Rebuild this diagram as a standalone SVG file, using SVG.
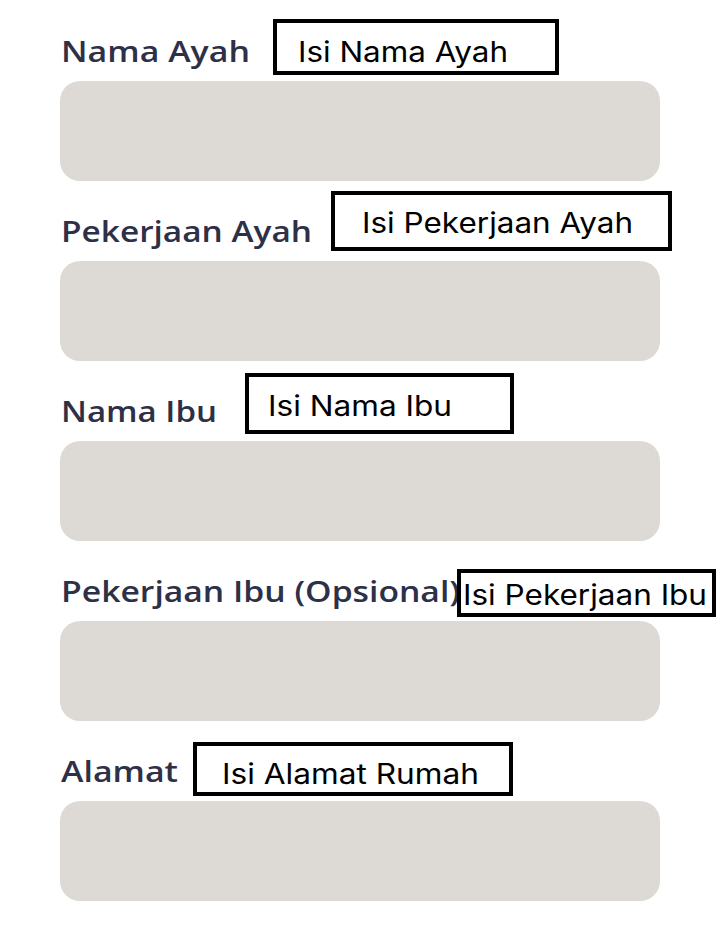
<svg xmlns="http://www.w3.org/2000/svg" width="720" height="926" viewBox="0 0 720 926">
<style>
.lbl{font-family:"Open Sans","Noto Sans",sans-serif;font-weight:600;font-size:29px;fill:#2d3047}
.fld{fill:#ddd9d4}
.tag{fill:#fff;stroke:#000;stroke-width:4}
.tt{font-family:Inter,"Liberation Sans",sans-serif;font-weight:400;font-size:28px;fill:#000}
</style>
<rect width="720" height="926" fill="#fff"/>
<g id="field-nama-ayah">
<text class="lbl" x="61" y="62" textLength="189" lengthAdjust="spacingAndGlyphs">Nama Ayah</text>
<rect class="fld" x="60" y="81" width="600" height="100" rx="20"/>
<rect class="tag" x="275" y="21" width="282" height="52"/>
<text class="tt" x="298" y="62" textLength="210" lengthAdjust="spacingAndGlyphs">Isi Nama Ayah</text>
</g>
<g id="field-pekerjaan-ayah">
<text class="lbl" x="61" y="242" textLength="251" lengthAdjust="spacingAndGlyphs">Pekerjaan Ayah</text>
<rect class="fld" x="60" y="261" width="600" height="100" rx="20"/>
<rect class="tag" x="333" y="193" width="337" height="56"/>
<text class="tt" x="362" y="233" textLength="271" lengthAdjust="spacingAndGlyphs">Isi Pekerjaan Ayah</text>
</g>
<g id="field-nama-ibu">
<text class="lbl" x="61" y="422" textLength="156" lengthAdjust="spacingAndGlyphs">Nama Ibu</text>
<rect class="fld" x="60" y="441" width="600" height="100" rx="20"/>
<rect class="tag" x="247" y="375" width="265" height="57"/>
<text class="tt" x="268" y="416" textLength="184" lengthAdjust="spacingAndGlyphs">Isi Nama Ibu</text>
</g>
<g id="field-pekerjaan-ibu">
<text class="lbl" x="61" y="602" textLength="399" lengthAdjust="spacingAndGlyphs">Pekerjaan Ibu (Opsional)</text>
<rect class="fld" x="60" y="621" width="600" height="100" rx="20"/>
<rect class="tag" x="459" y="571" width="255" height="44"/>
<text class="tt" x="463" y="605" textLength="244" lengthAdjust="spacingAndGlyphs">Isi Pekerjaan Ibu</text>
</g>
<g id="field-alamat">
<text class="lbl" x="61" y="782" textLength="117" lengthAdjust="spacingAndGlyphs">Alamat</text>
<rect class="fld" x="60" y="801" width="600" height="100" rx="20"/>
<rect class="tag" x="195" y="744" width="316" height="50"/>
<text class="tt" x="222" y="784" textLength="257" lengthAdjust="spacingAndGlyphs">Isi Alamat Rumah</text>
</g>
</svg>
